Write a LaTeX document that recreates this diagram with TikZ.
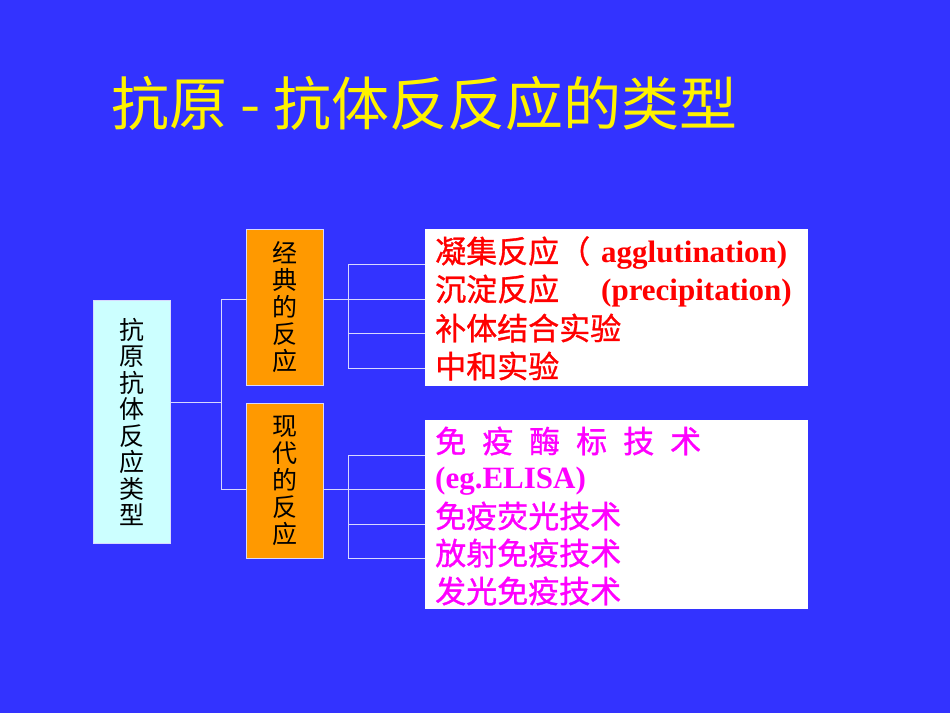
\documentclass[tikz,border=0pt]{standalone}
\usepackage{fontspec}
\setmainfont{Liberation Serif}
\newfontfamily\cjk{Noto Sans CJK SC}
\newfontfamily\cjkb[FakeBold=1]{Noto Sans CJK SC}
\definecolor{bgblue}{HTML}{3333FF}
\definecolor{lcyan}{HTML}{CCFFFF}
\definecolor{orng}{HTML}{FF9900}
\definecolor{lnc}{HTML}{D8D8FF}
\definecolor{magn}{HTML}{FF00FF}
\begin{document}
\begin{tikzpicture}[x=1pt,y=-1pt,
  conn/.style={draw=lnc,line width=1pt},
  vbox/.style={anchor=north west,inner sep=0pt,draw=lnc,line width=0.6pt},
  vtext/.style={align=center,font=\cjk\fontsize{25}{27}\selectfont,inner sep=0pt},
  lbox/.style={anchor=north west,fill=white,inner sep=0pt},
  ltext/.style={anchor=west,inner sep=0pt},
  cj/.style={font=\cjkb\fontsize{31}{34}\selectfont},
  lt/.style={font=\rmfamily\bfseries\fontsize{31}{34}\selectfont}]
\useasboundingbox (0,0) rectangle (950,713);
\fill[bgblue] (0,0) rectangle (950,713);
% title
\node[anchor=west,text=yellow,inner sep=0pt,font=\cjk\fontsize{58}{64}\selectfont] (title) at (111,103) {抗原 - 抗体反反应的类型};
% left box
\node[vbox,fill=lcyan,minimum width=77pt,minimum height=243pt] (L) at (93,300) {};
\node[vtext,font=\cjk\fontsize{25}{26.5}\selectfont] (Lt) at (L.center) {抗\\原\\抗\\体\\反\\应\\类\\型};
% orange boxes
\node[vbox,fill=orng,minimum width=77pt,minimum height=156pt] (B1) at (246,229) {};
\node[vtext] (B1t) at (B1.center) {经\\典\\的\\反\\应};
\node[vbox,fill=orng,minimum width=77pt,minimum height=155pt] (B2) at (246,403) {};
\node[vtext] (B2t) at (B2.center) {现\\代\\的\\反\\应};
% white boxes
\node[lbox,minimum width=383pt,minimum height=157pt] (W1) at (425,229) {};
\node[lbox,minimum width=383pt,minimum height=189pt] (W2) at (425,420) {};
% connector points
\coordinate (J0) at (221,402);
\coordinate (J1) at (348,299);
\coordinate (J2) at (348,489);
\draw[conn] (L.east |- J0) -- (J0);
\draw[conn] (221,299) -- (221,489);
\draw[conn] (221,299) -- (B1.west |- 0,299);
\draw[conn] (221,489) -- (B2.west |- 0,489);
\draw[conn] (B1.east |- J1) -- (373,299);
\draw[conn] (B2.east |- J2) -- (J2);
\draw[conn] (348,264) -- (348,368);
\draw[conn] (348,455) -- (348,558);
\foreach \y in {264,299,333,368} \draw[conn] (348,\y) -- (W1.west |- 0,\y);
\foreach \y in {455,489,524,558} \draw[conn] (348,\y) -- (W2.west |- 0,\y);
% text in white box 1
\begin{scope}[text=red]
\node[ltext,cj] (t1) at (435,253) {\makebox[166pt][l]{凝集反应（}\rmfamily\bfseries\fontsize{31}{34}\selectfont agglutination)};
\node[ltext,cj] (t2) at (435,291) {\makebox[166pt][l]{沉淀反应}\rmfamily\bfseries\fontsize{31}{34}\selectfont (precipitation)};
\node[ltext,cj] (t3) at (435,328) {补体结合实验};
\node[ltext,cj] (t4) at (435,366) {中和实验};
\end{scope}
\begin{scope}[text=magn]
\node[ltext,cj] (u1) at (435,441) {免\hspace{16pt}疫\hspace{16pt}酶\hspace{16pt}标\hspace{16pt}技\hspace{16pt}术};
\node[ltext,lt] (u2) at (435,481) {(eg.ELISA)};
\node[ltext,cj] (u3) at (435,516) {免疫荧光技术};
\node[ltext,cj] (u4) at (435,553) {放射免疫技术};
\node[ltext,cj] (u5) at (435,591) {发光免疫技术};
\end{scope}
\end{tikzpicture}
\end{document}
